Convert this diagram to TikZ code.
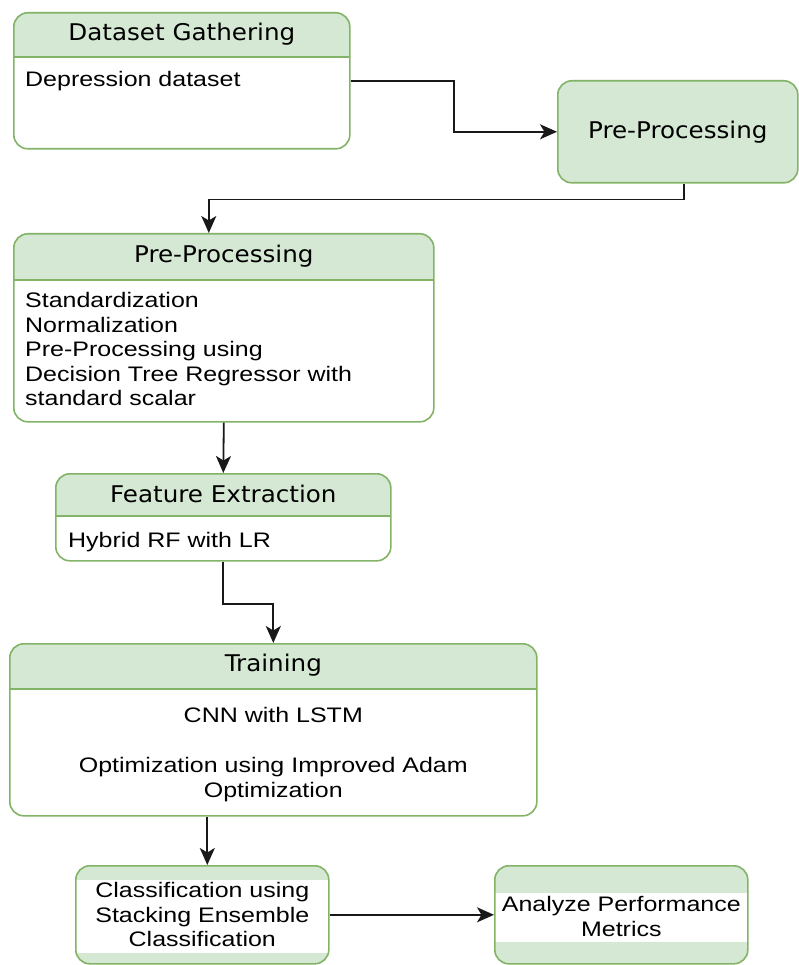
\documentclass[tikz,border=0pt]{standalone}
\usepackage{fontspec}
\setmainfont{Liberation Sans}[FakeStretch=1.19]
\newfontfamily\headfont{DejaVu Sans}[FakeStretch=1.07]
\usepackage{tikz}
\usetikzlibrary{positioning, arrows.meta}
\definecolor{boxline}{HTML}{82B366}
\definecolor{boxfill}{HTML}{D5E8D4}
\tikzset{
  panel/.style={draw=boxline, fill=white, line width=1.6pt, rounded corners=14pt,
    anchor=north west, inner sep=0pt,
    path picture={
      \fill[boxfill, sharp corners] (path picture bounding box.north west)
        rectangle ([yshift=-#1]path picture bounding box.north east);
      \draw[boxline, line width=1.6pt, sharp corners]
        ([yshift=-#1]path picture bounding box.north west)
        -- ([yshift=-#1]path picture bounding box.north east);}},
  band/.style 2 args={draw=boxline, fill=boxfill, line width=1.6pt, rounded corners=14pt,
    anchor=north west, inner sep=0pt,
    path picture={
      \fill[white, sharp corners] ([yshift=-#1]path picture bounding box.north west)
        rectangle ([yshift=-#2]path picture bounding box.north east);}},
  greenbox/.style={draw=boxline, fill=boxfill, line width=1.6pt, rounded corners=14pt,
    anchor=north west, inner sep=0pt, font=\headfont\fontsize{23pt}{27pt}\selectfont},
  heading/.style={font=\headfont\fontsize{23pt}{27pt}\selectfont, inner sep=0pt},
  body/.style={font=\fontsize{21pt}{24.5pt}\selectfont, inner sep=0pt},
  flow/.style={-{Stealth[length=17pt, width=15pt, inset=4.5pt]}, line width=1.8pt, black!90}
}
\begin{document}
\begin{tikzpicture}[x=1pt, y=-1pt]
  \useasboundingbox (0,0) rectangle (798,965);

  % gathering
  \node[panel=44pt, minimum width=336pt, minimum height=136pt] (gather) at (13,12) {};
  \node[heading, below=22pt of gather.north, anchor=center] (gathertitle) {Dataset Gathering};
  \node[body, anchor=base west] (gatherbody) at ([shift={(12pt,-74.5pt)}]gather.north west) {Depression dataset};

  % pre-processing (right)
  \node[greenbox, minimum width=240pt, minimum height=102pt] (prepa) at (557,80) {Pre-Processing};

  % pre-processing details
  \node[panel=46pt, minimum width=420pt, minimum height=188pt] (prepb) at (13,233) {};
  \node[heading, below=23pt of prepb.north, anchor=center] (prepbtitle) {Pre-Processing};
  \node[body, anchor=north west, align=left] (prepbbody) at ([shift={(12pt,-59.5pt)}]prepb.north west)
    {Standardization\\Normalization\\Pre-Processing using\\Decision Tree Regressor with\\standard scalar};

  % features
  \node[panel=42pt, minimum width=335pt, minimum height=87pt] (feature) at (55,473) {};
  \node[heading, below=21pt of feature.north, anchor=center] (featuretitle) {Feature Extraction};
  \node[body, anchor=base west] (featurebody) at ([shift={(13pt,-74pt)}]feature.north west) {Hybrid RF with LR};

  % training
  \node[panel=45pt, minimum width=527pt, minimum height=172pt] (train) at (9,643) {};
  \node[heading, below=22.5pt of train.north, anchor=center] (traintitle) {Training};
  \node[body, anchor=north, align=center] (trainbody) at ([yshift=-64.5pt]train.north)
    {CNN with LSTM\\[25.5pt]Optimization using Improved Adam\\Optimization};

  % classification and metrics
  \node[band={14pt}{87pt}, minimum width=253pt, minimum height=98pt] (classif) at (75,865) {};
  \node[body, anchor=north, align=center] (classifbody) at ([yshift=-17.5pt]classif.north)
    {Classification using\\Stacking Ensemble\\Classification};
  \node[band={27pt}{76pt}, minimum width=253pt, minimum height=98pt] (analyze) at (494,865) {};
  \node[body, anchor=north, align=center] (analyzebody) at ([yshift=-31.5pt]analyze.north)
    {Analyze Performance\\Metrics};

  % connectors
  \path ([xshift=6pt]prepa.south) coordinate (prepaout)
        ([xshift=-15pt]prepb.north) coordinate (prepbin)
        ([xshift=5pt]classif.north) coordinate (classifin);
  \draw[flow] (gather.east) -- ++(103,0) |- (prepa.west);
  \draw[flow] (prepaout) -- ++(0,16) -| (prepbin);
  \draw[flow] (prepb.south) -- (feature.north);
  \draw[flow] (feature.south) -- ++(0,42) -| (train.north);
  \draw[flow] (train.south -| classifin) -- (classifin);
  \draw[flow] (classif.east) -- (analyze.west);
\end{tikzpicture}
\end{document}
